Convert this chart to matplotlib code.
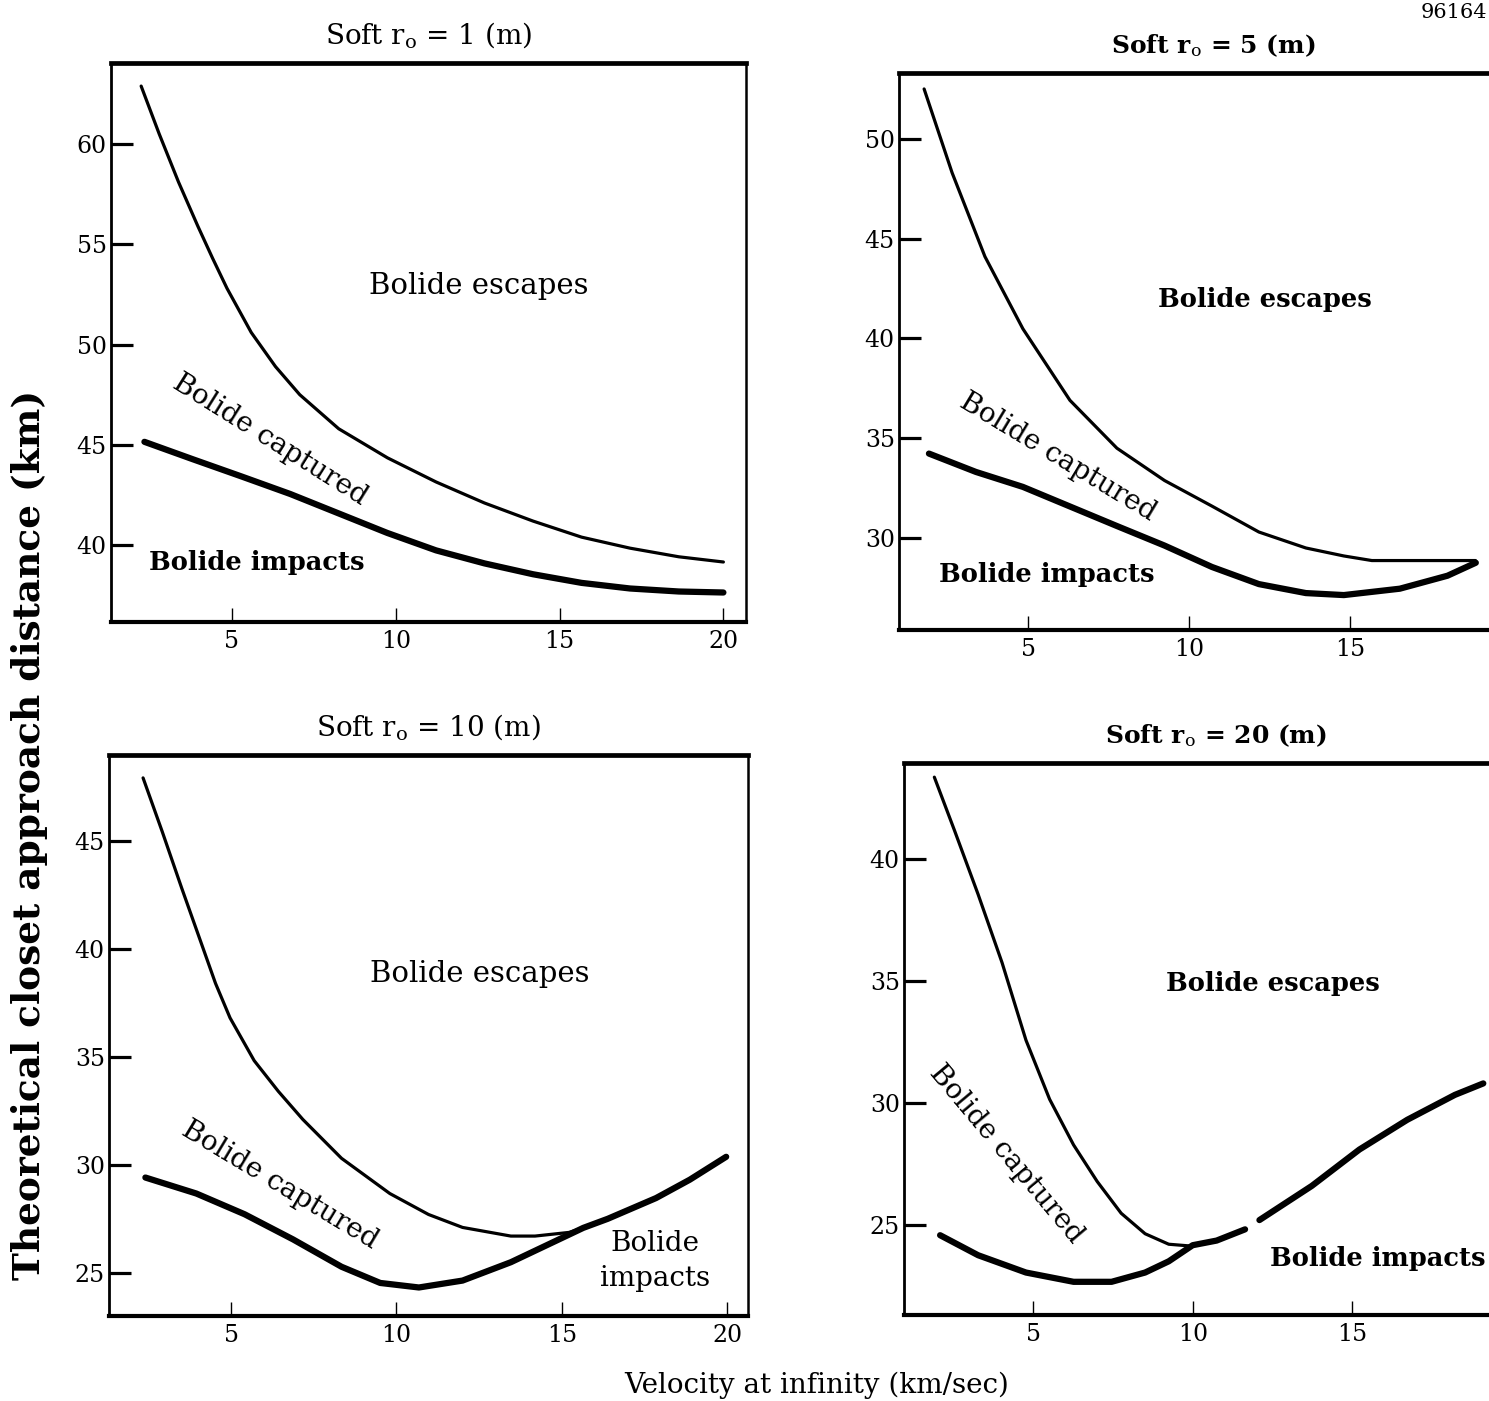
import numpy as np
import matplotlib
matplotlib.use("Agg")
import matplotlib.pyplot as plt

plt.rcParams['font.family'] = ['DejaVu Serif']
plt.rcParams['mathtext.fontset'] = 'dejavuserif'

# Soft r0 = 1 m
v1_up = [2.23, 2.78, 3.37, 3.96, 4.41, 4.85, 5.59, 6.33, 7.07, 8.26, 9.75, 11.23, 12.71, 14.19, 15.67, 17.15, 18.64, 20.0]
d1_up = [62.88, 60.5, 58.1, 55.9, 54.3, 52.8, 50.6, 48.9, 47.5, 45.8, 44.35, 43.15, 42.1, 41.2, 40.4, 39.85, 39.42, 39.16]
v1_lo = [2.33, 3.81, 5.30, 6.78, 8.26, 9.74, 11.23, 12.71, 14.19, 15.67, 17.15, 18.64, 20.0]
d1_lo = [45.15, 44.28, 43.42, 42.55, 41.58, 40.61, 39.74, 39.09, 38.55, 38.12, 37.84, 37.69, 37.64]

# Soft r0 = 5 m
v5_up = [1.77, 2.64, 3.66, 4.84, 6.30, 7.76, 9.24, 10.71, 12.17, 13.63, 14.81, 15.68, 18.9]
d5_up = [52.5, 48.3, 44.1, 40.48, 36.9, 34.5, 32.88, 31.60, 30.30, 29.50, 29.10, 28.87, 28.87]
v5_lo = [1.92, 3.38, 4.84, 6.30, 7.76, 9.24, 10.71, 12.17, 13.63, 14.81, 16.55, 18.03, 18.91]
d5_lo = [34.23, 33.31, 32.56, 31.58, 30.60, 29.62, 28.55, 27.69, 27.24, 27.14, 27.46, 28.11, 28.76]

# Soft r0 = 10 m
v10_up = [2.34, 2.92, 3.51, 4.09, 4.53, 4.97, 5.70, 6.43, 7.17, 8.34, 9.80, 10.97, 12.00, 13.46, 14.19, 15.22, 15.65]
d10_up = [47.91, 45.42, 42.8, 40.3, 38.4, 36.8, 34.82, 33.4, 32.1, 30.3, 28.67, 27.7, 27.1, 26.70, 26.70, 26.87, 27.08]
v10_lo = [2.41, 3.95, 5.41, 6.87, 8.34, 9.51, 10.68, 12.00, 13.46, 14.92, 15.65, 16.39, 17.85, 18.87, 19.97]
d10_lo = [29.41, 28.67, 27.71, 26.55, 25.28, 24.53, 24.32, 24.64, 25.49, 26.55, 27.08, 27.50, 28.46, 29.31, 30.37]

# Soft r0 = 20 m (lower branch is broken near 12 km/s)
v20_up = [1.91, 2.54, 3.28, 4.03, 4.78, 5.52, 6.27, 7.01, 7.76, 8.51, 9.25, 10.0]
d20_up = [43.34, 41.16, 38.54, 35.74, 32.56, 30.14, 28.27, 26.77, 25.47, 24.63, 24.20, 24.12]
v20_lo_a = [2.09, 3.28, 4.78, 6.27, 7.46, 8.51, 9.25, 10.0, 10.75, 11.64]
d20_lo_a = [24.57, 23.75, 23.04, 22.66, 22.66, 23.04, 23.50, 24.16, 24.35, 24.81]
v20_lo_b = [12.09, 13.73, 15.22, 16.72, 18.21, 19.10]
d20_lo_b = [25.19, 26.59, 28.08, 29.30, 30.32, 30.79]

titles = ["Soft r$_\\mathrm{o}$ = 1 (m)", "Soft r$_\\mathrm{o}$ = 5 (m)",
          "Soft r$_\\mathrm{o}$ = 10 (m)", "Soft r$_\\mathrm{o}$ = 20 (m)"]
yticks = [[40, 45, 50, 55, 60], [30, 35, 40, 45, 50],
          [25, 30, 35, 40, 45], [25, 30, 35, 40]]
xticks = [[5, 10, 15, 20], [5, 10, 15], [5, 10, 15, 20], [5, 10, 15]]

W, H = 1489, 1401
fig = plt.figure(figsize=(W / 100, H / 100), dpi=100)


def box(x0, x1, y0, y1):
    # pixel box -> figure fraction
    return [x0 / W, 1 - y1 / H, (x1 - x0) / W, (y1 - y0) / H]


axes = [
    fig.add_axes(box(111, 746, 63, 622)),
    fig.add_axes(box(899, 1527, 73, 630)),
    fig.add_axes(box(109, 748, 755, 1316)),
    fig.add_axes(box(904, 1528, 763, 1315)),
]
xlims = [(1.31, 20.69), (0.99, 20.5), (1.31, 20.63), (0.96, 20.5)]
ylims = [(36.17, 64.03), (25.39, 53.3), (23.0, 48.97), (21.3, 43.92)]
boldish = [False, True, False, True]
title_size = [20, 18, 20, 18]

for i, ax in enumerate(axes):
    ax.set_xlim(*xlims[i])
    ax.set_ylim(*ylims[i])
    ax.set_xticks(xticks[i])
    ax.set_yticks(yticks[i])
    ax.tick_params(axis='y', direction='in', length=16, width=2.3, pad=3, labelsize=17)
    ax.tick_params(axis='x', direction='in', length=10, width=1.0, pad=6, labelsize=17)
    ax.spines['top'].set_linewidth(3.4)
    ax.spines['bottom'].set_linewidth(3.0)
    ax.spines['left'].set_linewidth(2.0)
    ax.spines['right'].set_linewidth(1.8)
    ax.set_title(titles[i], fontsize=title_size[i], pad=14,
                 fontweight='bold' if boldish[i] else 'normal')

thin, thick = 2.3, 4.5
lbl, blbl = 21, 18.5
ax = axes[0]
ax.plot(v1_up, d1_up, 'k-', lw=thin, solid_capstyle='round')
ax.plot(v1_lo, d1_lo, 'k-', lw=thick, solid_capstyle='round')
ax.text(12.52, 52.9, "Bolide escapes", fontsize=lbl, ha='center', va='center')
ax.text(6.17, 45.27, "Bolide captured", fontsize=20, ha='center', va='center',
        rotation=-32)
ax.text(5.75, 39.15, "Bolide impacts", fontsize=blbl, ha='center', va='center',
        fontweight='bold')

ax = axes[1]
ax.plot(v5_up, d5_up, 'k-', lw=thin, solid_capstyle='round')
ax.plot(v5_lo, d5_lo, 'k-', lw=thick, solid_capstyle='round')
ax.text(12.36, 41.93, "Bolide escapes", fontsize=blbl, ha='center', va='center',
        fontweight='bold')
ax.text(5.93, 34.06, "Bolide captured", fontsize=20, ha='center', va='center',
        rotation=-31)
ax.text(5.59, 28.15, "Bolide impacts", fontsize=blbl, ha='center', va='center',
        fontweight='bold')

ax = axes[2]
ax.plot(v10_up, d10_up, 'k-', lw=thin, solid_capstyle='round')
ax.plot(v10_lo, d10_lo, 'k-', lw=thick, solid_capstyle='round')
ax.text(12.53, 38.82, "Bolide escapes", fontsize=lbl, ha='center', va='center')
ax.text(6.48, 29.05, "Bolide captured", fontsize=20, ha='center', va='center',
        rotation=-31)
ax.text(17.82, 25.55, "Bolide\nimpacts", fontsize=20, ha='center', va='center',
        linespacing=1.4)

ax = axes[3]
ax.plot(v20_up, d20_up, 'k-', lw=thin, solid_capstyle='round')
ax.plot(v20_lo_a, d20_lo_a, 'k-', lw=thick, solid_capstyle='round')
ax.plot(v20_lo_b, d20_lo_b, 'k-', lw=thick, solid_capstyle='round')
ax.text(12.52, 34.9, "Bolide escapes", fontsize=blbl, ha='center', va='center',
        fontweight='bold')
ax.text(4.17, 27.9, "Bolide captured", fontsize=20, ha='center', va='center',
        rotation=-50)
ax.text(15.8, 23.63, "Bolide impacts", fontsize=blbl, ha='center', va='center',
        fontweight='bold')

fig.text(30 / W, 1 - 835 / H, "Theoretical closet approach distance (km)",
         rotation=90, ha='center', va='center', fontsize=27, fontweight='bold')
fig.text(817 / W, 1 - 1385 / H, "Velocity at infinity (km/sec)",
         ha='center', va='center', fontsize=20)
fig.text(1487 / W, 1 - 12 / H, "96164", ha='right', va='center', fontsize=15)

fig.savefig("out.png", dpi=100)
